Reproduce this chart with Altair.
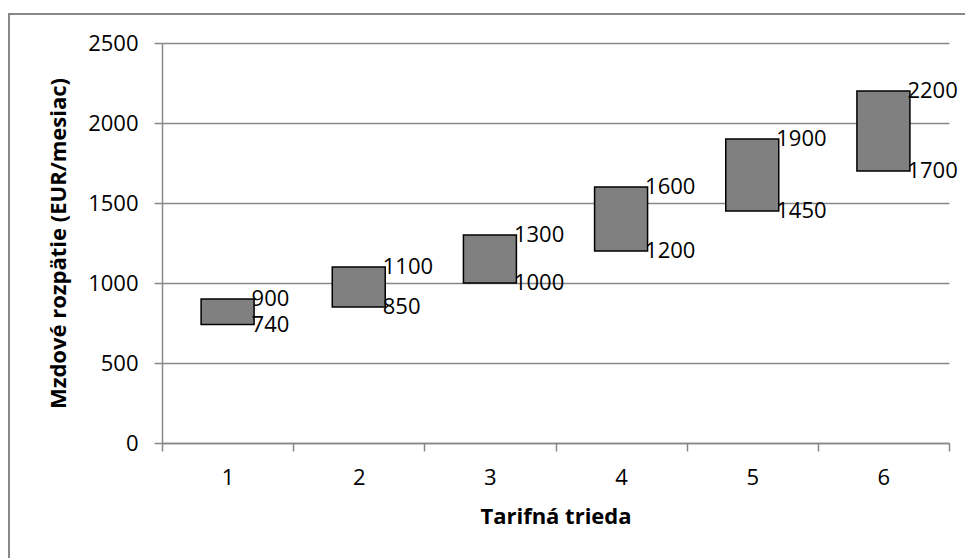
import altair as alt
import pandas as pd

categories = ["1", "2", "3", "4", "5", "6"]
low_values = [740, 850, 1000, 1200, 1450, 1700]
high_values = [900, 1100, 1300, 1600, 1900, 2200]
y_ticks = [0, 500, 1000, 1500, 2000, 2500]

df = pd.DataFrame({"cat": categories, "low": low_values, "high": high_values})

FONT = "Open Sans"
GRAY = "#888888"

xscale = alt.Scale(domain=categories, paddingInner=0, paddingOuter=0)
yscale = alt.Scale(domain=[0, 2500], nice=False)

x_axis = alt.Axis(title="Tarifná trieda", labelAngle=0, tickBand="extent", grid=False)
y_axis = alt.Axis(title="Mzdové rozpätie (EUR/mesiac)", values=y_ticks, format="d")

base = alt.Chart(df)

bars = base.mark_bar(
    width={"band": 0.404}, color="#808080", stroke="#000000", strokeWidth=1.5
).encode(
    x=alt.X("cat:N", scale=xscale, sort=categories, axis=x_axis),
    y=alt.Y("high:Q", scale=yscale, axis=y_axis),
    y2="low:Q",
)

high_text = base.mark_text(align="left", baseline="middle", dx=24, fontSize=22,
                           font=FONT, color="#000000").encode(
    x=alt.X("cat:N", scale=xscale, sort=categories, axis=x_axis),
    y=alt.Y("high:Q", scale=yscale, axis=y_axis),
    text="high:Q",
)
low_text = base.mark_text(align="left", baseline="middle", dx=24, fontSize=22,
                          font=FONT, color="#000000").encode(
    x=alt.X("cat:N", scale=xscale, sort=categories, axis=x_axis),
    y=alt.Y("low:Q", scale=yscale, axis=y_axis),
    text="low:Q",
)

border = alt.Chart(pd.DataFrame({"a": [0]})).mark_rect(
    fill=None, stroke=GRAY, strokeWidth=2
).encode(
    x=alt.value(-153), x2=alt.value(820), y=alt.value(-29), y2=alt.value(530)
)

chart = alt.layer(border, bars, high_text, low_text).properties(
    width=787, height=400,
    background="white",
    autosize=alt.AutoSizeParams(type="none"),
    padding={"left": 162, "top": 43, "right": 16, "bottom": 115},
).configure_view(stroke=None).configure_axis(
    labelFont=FONT, titleFont=FONT, titleFontWeight="bold",
    labelFontSize=22, titleFontSize=22, labelColor="#000000", titleColor="#000000",
    domainColor=GRAY, tickColor=GRAY, tickSize=8, domainWidth=1.5, tickWidth=1.5,
    gridColor=GRAY, gridWidth=1.5, labelPadding=16,
).configure_axisX(titlePadding=18).configure_axisY(titlePadding=17)

chart.save("out.html", embed_options={"renderer": "svg", "actions": False})
